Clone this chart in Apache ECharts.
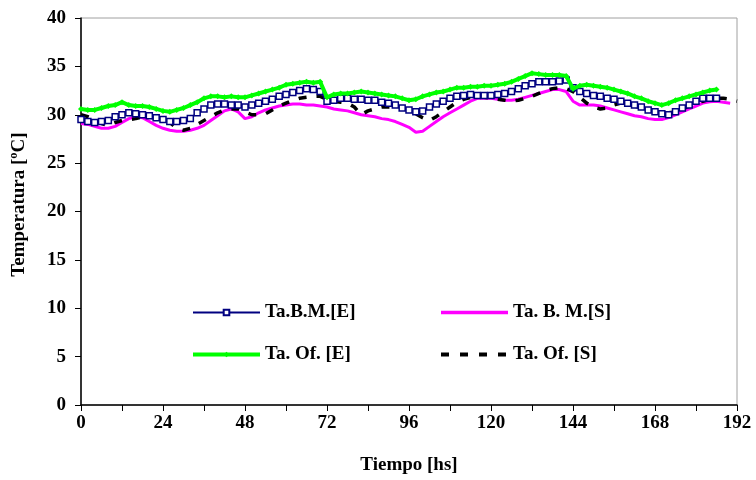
<!DOCTYPE html>
<html>
<head>
<meta charset="utf-8">
<script src="https://cdn.jsdelivr.net/npm/echarts@6/dist/echarts.min.js"></script>
<style>html,body{margin:0;padding:0;background:#fff}#c{width:756px;height:480px}</style>
</head>
<body>
<div id="c"></div>
<script>
// Sampling step of the series (hours)
const STEP = 2;
const xTicks = [0, 24, 48, 72, 96, 120, 144, 168, 192];
const yTicks = [0, 5, 10, 15, 20, 25, 30, 35, 40];
const seriesNames = ['Ta.B.M.[E]', 'Ta. B. M.[S]', 'Ta. Of. [E]', 'Ta. Of. [S]'];

// Ta.B.M.[E]  (h = 0, 2, ... 186)
const tbmE = [29.5,29.3,29.2,29.3,29.4,29.8,30.0,30.2,30.1,30.0,29.9,29.7,29.5,29.3,29.3,29.4,29.6,30.2,30.6,31.0,
  31.1,31.1,31.0,31.0,30.8,31.0,31.2,31.4,31.6,31.9,32.1,32.3,32.5,32.7,32.6,32.4,31.4,31.5,31.7,31.7,
  31.6,31.6,31.5,31.5,31.3,31.2,31.0,30.7,30.5,30.3,30.4,30.8,31.1,31.4,31.7,31.9,32.0,32.1,32.0,32.0,
  32.0,32.1,32.2,32.4,32.7,33.0,33.2,33.4,33.4,33.4,33.5,33.6,32.8,32.4,32.2,32.0,31.9,31.7,31.6,31.4,
  31.2,31.0,30.8,30.5,30.3,30.1,30.0,30.3,30.7,31.0,31.4,31.7,31.7,31.7];

// Ta. Of. [E]  (h = 0, 2, ... 186)
const tofE = [30.6,30.5,30.5,30.7,30.9,31.0,31.3,31.0,30.9,30.9,30.8,30.6,30.4,30.3,30.5,30.7,31.0,31.3,31.7,31.9,
  31.9,31.8,31.9,31.8,31.8,32.0,32.2,32.4,32.6,32.8,33.1,33.2,33.3,33.4,33.3,33.4,31.8,32.1,32.2,32.2,
  32.3,32.4,32.3,32.2,32.1,32.0,31.9,31.7,31.5,31.6,31.9,32.1,32.3,32.4,32.6,32.8,32.8,32.9,32.9,33.0,
  33.0,33.1,33.2,33.4,33.7,34.0,34.3,34.2,34.1,34.1,34.1,34.0,32.7,33.0,33.1,33.0,32.9,32.8,32.6,32.4,
  32.2,31.9,31.7,31.4,31.2,31.0,31.2,31.5,31.7,31.9,32.1,32.3,32.5,32.6];

// Ta. B. M.[S]  (h = 0, 2, ... 190)
const tbmS = [29.1,29.0,28.8,28.6,28.6,28.8,29.2,29.6,29.8,29.7,29.3,28.9,28.6,28.4,28.3,28.3,28.4,28.6,28.9,29.4,
  29.9,30.4,30.6,30.3,29.6,29.8,30.2,30.5,30.7,30.9,31.0,31.1,31.1,31.0,31.0,30.9,30.8,30.6,30.5,30.4,
  30.2,30.0,29.9,29.8,29.6,29.5,29.3,29.0,28.7,28.2,28.3,28.8,29.3,29.8,30.2,30.6,31.0,31.4,31.7,31.7,
  31.7,31.6,31.5,31.5,31.6,31.8,32.0,32.2,32.4,32.6,32.6,32.4,31.4,31.0,31.0,31.0,30.9,30.7,30.5,30.3,
  30.1,29.9,29.8,29.6,29.5,29.5,29.7,30.0,30.3,30.6,30.9,31.2,31.35,31.4,31.3,31.2];

// Ta. Of. [S]  (h = 0, 2, ... 192)
const tofS = [30.0,29.8,29.5,29.1,28.9,29.2,29.4,29.5,29.6,29.8,29.8,29.6,29.4,29.2,28.6,28.4,28.6,29.0,29.4,29.8,
  30.2,30.5,30.6,30.6,30.3,30.0,30.0,30.1,30.5,30.9,31.2,31.5,31.7,31.8,31.9,31.9,31.6,31.4,31.3,31.2,
  30.8,30.0,30.4,30.6,30.8,30.8,30.8,30.7,30.5,30.1,29.7,29.4,29.8,30.3,30.8,31.3,31.6,31.8,31.9,31.8,
  31.7,31.6,31.5,31.4,31.5,31.7,31.9,32.2,32.5,32.7,32.8,32.7,32.4,31.8,31.2,30.8,30.6,30.7,31.0,31.2,
  31.1,30.9,30.7,30.5,30.4,30.3,30.2,30.3,30.6,30.9,31.2,31.4,31.6,31.7,31.7,31.6,31.4];

function pairs(vals) { return vals.map((v, i) => [i * STEP, v]); }

const FONT = 'Liberation Serif';
const txt = { fontFamily: FONT, fontWeight: 'bold', fontSize: 19, color: '#000' };

const chart = echarts.init(document.getElementById('c'), null, { renderer: 'canvas' });
chart.setOption({
  animation: false,
  backgroundColor: '#fff',
  grid: { left: 81, right: 19, top: 18, bottom: 75, show: true, borderColor: '#a0a0a0', borderWidth: 1, backgroundColor: 'transparent' },
  xAxis: {
    type: 'value', min: xTicks[0], max: xTicks[xTicks.length - 1], interval: 24,
    name: 'Tiempo [hs]', nameLocation: 'middle', nameGap: 51,
    nameTextStyle: txt,
    axisLine: { show: true, onZero: false, lineStyle: { color: '#000', width: 1.5 } },
    axisTick: { show: true, length: 6, lineStyle: { color: '#000', width: 1 } },
    minorTick: { show: true, splitNumber: 2, length: 6, lineStyle: { color: '#000', width: 1 } },
    splitLine: { show: false },
    axisLabel: Object.assign({ margin: 9 }, txt)
  },
  yAxis: {
    type: 'value', min: yTicks[0], max: yTicks[yTicks.length - 1], interval: 5,
    name: 'Temperatura [ºC]', nameLocation: 'middle', nameGap: 52,
    nameTextStyle: Object.assign({ padding: [0, 0, 0, 14] }, txt),
    axisLine: { show: true, onZero: false, lineStyle: { color: '#000', width: 1.5 } },
    axisTick: { show: true, length: 6, lineStyle: { color: '#000', width: 1 } },
    splitLine: { show: false },
    axisLabel: Object.assign({ margin: 15 }, txt)
  },
  legend: [
    { data: [{ name: seriesNames[0], lineStyle: { width: 2 } }, { name: seriesNames[2], lineStyle: { width: 4 } }],
      orient: 'vertical', left: 186, top: 298, itemWidth: 67, itemHeight: 7, itemGap: 23, textStyle: txt },
    { data: [{ name: seriesNames[1], itemStyle: { opacity: 0 }, lineStyle: { width: 3.5 } },
             { name: seriesNames[3], itemStyle: { opacity: 0 }, lineStyle: { width: 4, type: [8, 11] } }],
      orient: 'vertical', left: 434, top: 298, itemWidth: 67, itemHeight: 7, itemGap: 23, textStyle: txt }
  ],
  series: [
    { name: seriesNames[1], type: 'line', data: pairs(tbmS), symbol: 'none', z: 2,
      lineStyle: { color: '#ff00ff', width: 3 }, itemStyle: { color: '#ff00ff' } },
    { name: seriesNames[3], type: 'line', data: pairs(tofS), symbol: 'none', z: 3,
      lineStyle: { color: '#000', width: 3.5, type: [8, 10] }, itemStyle: { color: '#000' } },
    { name: seriesNames[0], type: 'line', data: pairs(tbmE), symbol: 'rect', symbolSize: 6, z: 4,
      lineStyle: { color: '#000080', width: 1.5 }, itemStyle: { color: '#fff', borderColor: '#000080', borderWidth: 1.5 } },
    { name: seriesNames[2], type: 'line', data: pairs(tofE), symbol: 'diamond', symbolSize: 6, z: 5,
      lineStyle: { color: '#00ff00', width: 4 }, itemStyle: { color: '#00ff00' } }
  ]
});
</script>
</body>
</html>
